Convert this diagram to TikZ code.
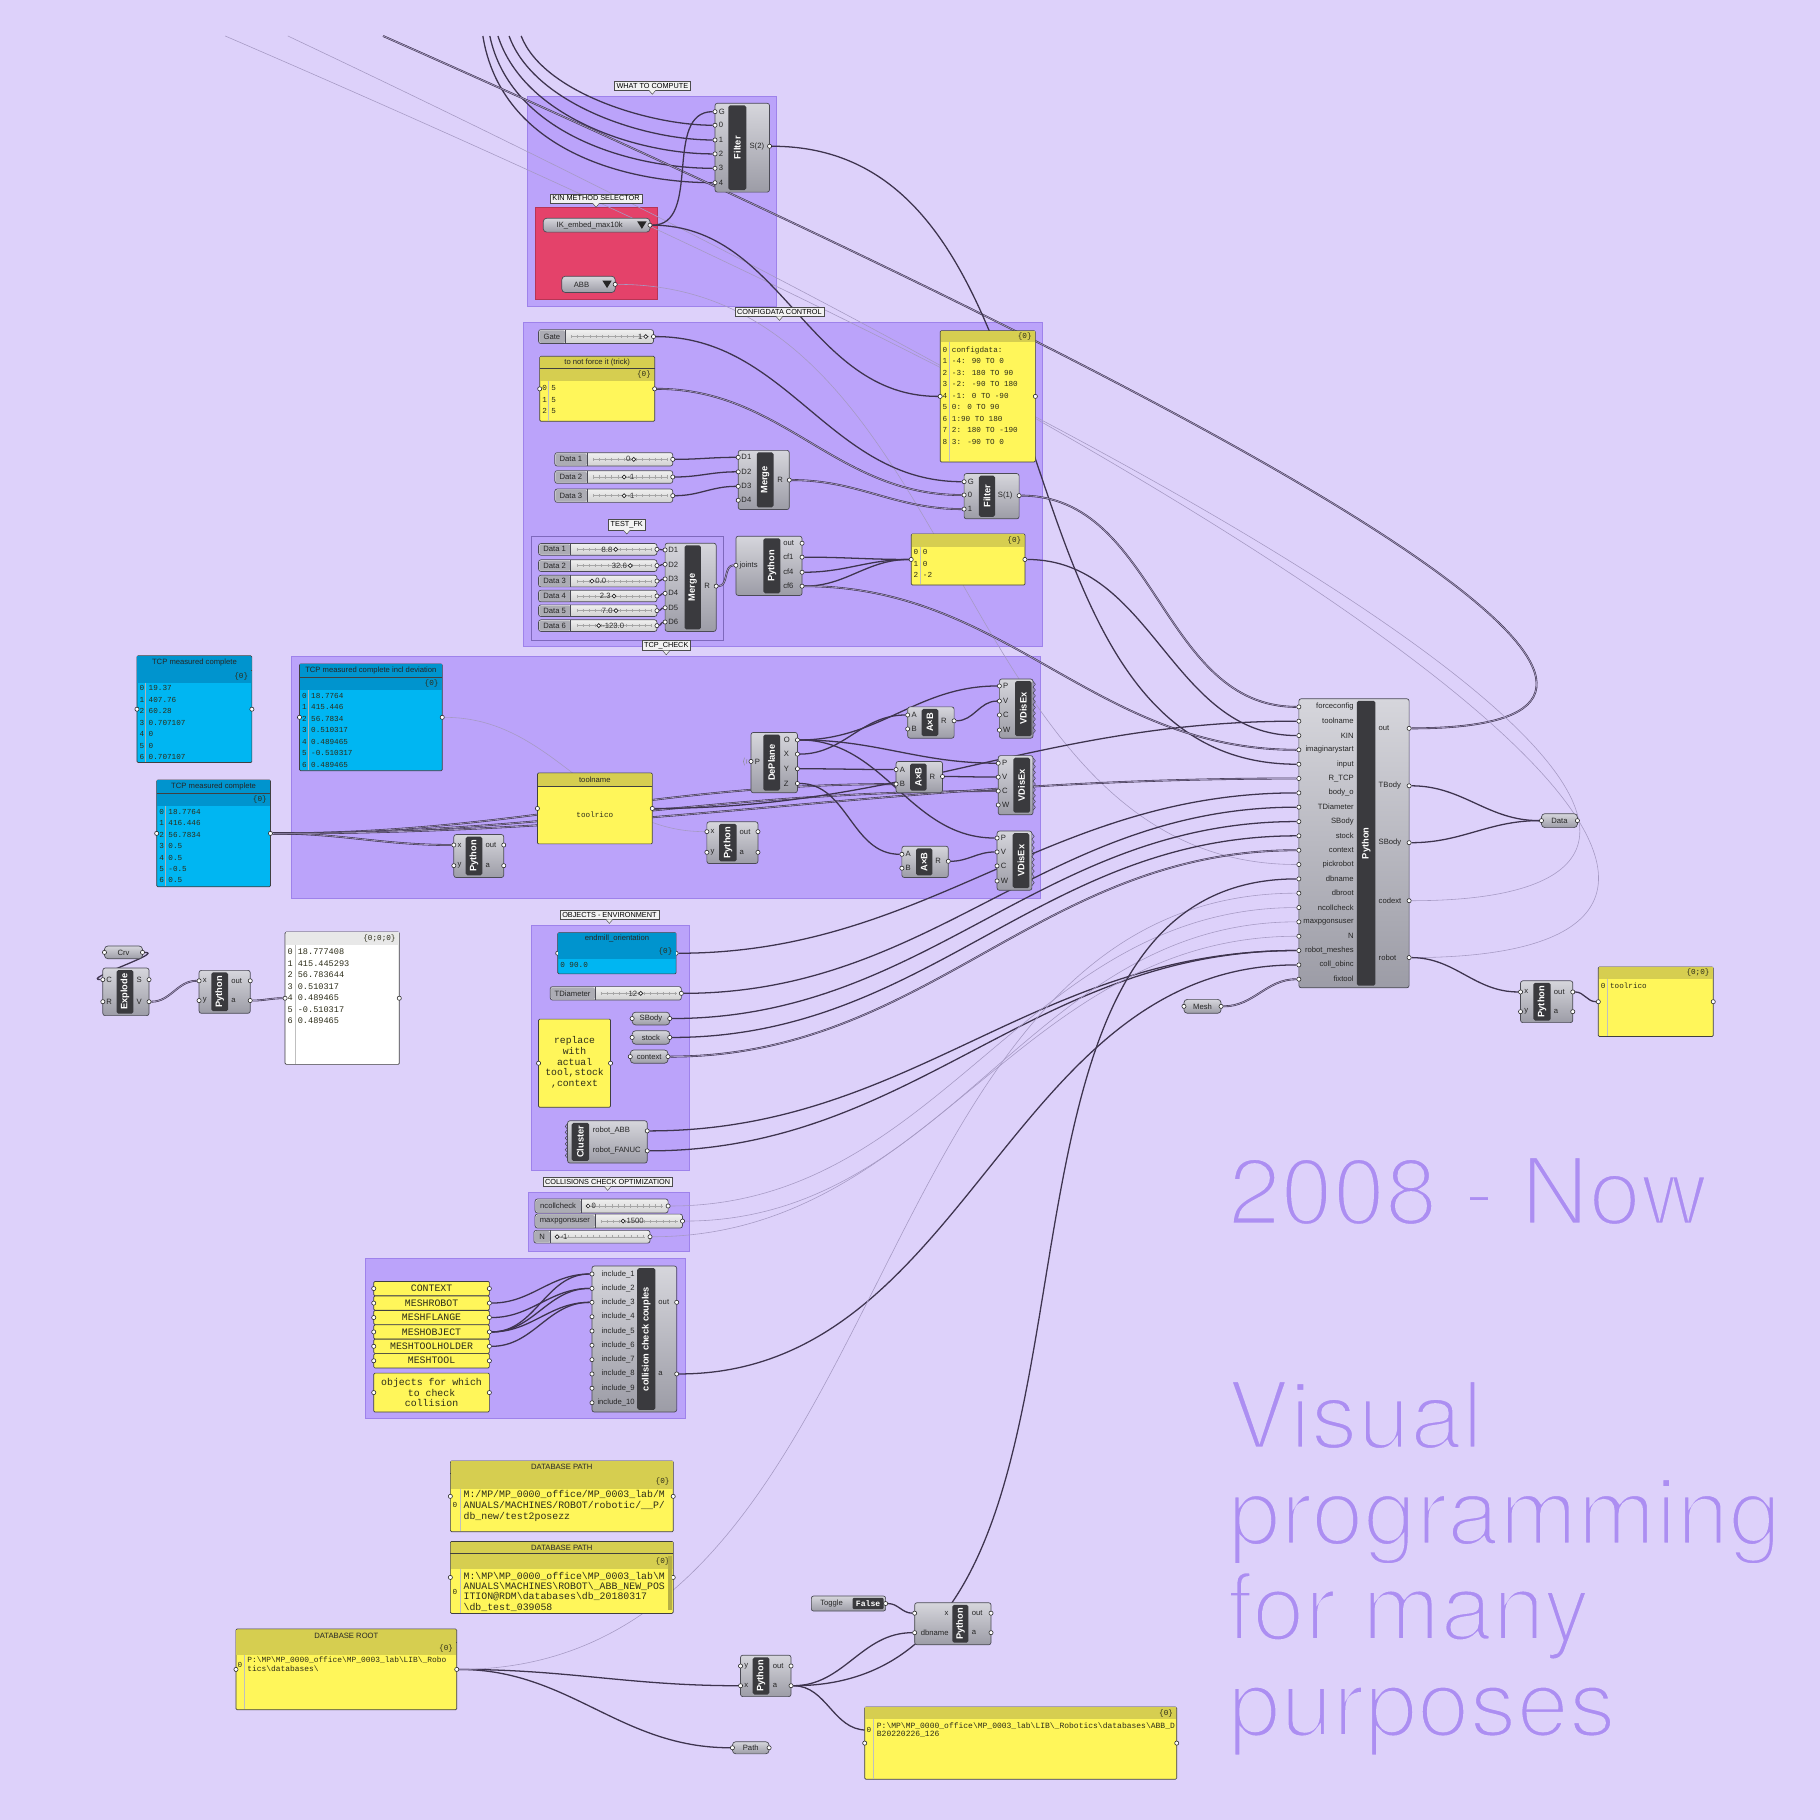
\documentclass[tikz,border=0pt]{standalone}
\usepackage{fontspec}
\setmainfont{Liberation Sans}
\newfontfamily\panelfont{Liberation Mono}
\newfontfamily\headlinefont{TeX Gyre Heros}

\definecolor{canvas}{RGB}{221,209,250}
\definecolor{grpfill}{RGB}{187,163,250}
\definecolor{grpline}{RGB}{158,130,235}
\definecolor{grpred}{RGB}{228,66,106}
\definecolor{compt}{RGB}{214,214,220}
\definecolor{compb}{RGB}{156,156,166}
\definecolor{compline}{RGB}{75,75,85}
\definecolor{barc}{RGB}{58,58,62}
\definecolor{sldname}{RGB}{172,172,180}
\definecolor{wirec}{RGB}{62,52,78}
\definecolor{wiregap}{RGB}{168,156,196}
\definecolor{faint}{RGB}{166,154,196}
\definecolor{pyel}{RGB}{255,246,90}
\definecolor{pyelh}{RGB}{214,206,80}
\definecolor{pblue}{RGB}{0,182,242}
\definecolor{pblueh}{RGB}{0,148,206}
\definecolor{ptext}{RGB}{45,45,25}
\definecolor{lblfill}{RGB}{242,242,242}
\definecolor{bigtxt}{RGB}{172,142,242}

\pgfdeclarelayer{grp}
\pgfdeclarelayer{wires}
\pgfsetlayers{grp,wires,main}

\newcommand{\bsl}{\textbackslash}
% thin the headline glyphs: fill, then stroke their edge in the canvas colour
\newcommand{\thinglyphs}[1]{\special{pdf:literal direct 2 Tr 3.4 w 0.867 0.820 0.980 RG}#1\special{pdf:literal direct 0 Tr}}

\tikzset{
  comp/.style={draw=compline,line width=0.6pt,rounded corners=2pt,top color=compt,bottom color=compb},
  sld/.style={draw=compline,line width=0.6pt,rounded corners=2pt,top color=white!94!black,bottom color=black!18},
  compbar/.style={fill=barc,rounded corners=1.5pt},
  bartxt/.style={rotate=90,text=white,font=\bfseries\fontsize{8}{8}\selectfont,inner sep=0pt},
  port/.style={circle,draw=black!85,fill=white,line width=0.5pt,inner sep=0pt,minimum size=3.6pt},
  knob/.style={circle,draw=black!85,fill=white,line width=0.6pt,inner sep=0pt,minimum size=3.4pt},
  ptxt/.style={font=\fontsize{6.6}{7}\selectfont,text=black!85,inner sep=0.6pt},
  sldv/.style={font=\fontsize{6.6}{7}\selectfont,text=black!80,inner sep=0.8pt},
  grplbl/.style={draw=black!70,fill=lblfill,font=\fontsize{6.3}{6.3}\selectfont,inner xsep=2pt,inner ysep=1.6pt,line width=0.4pt},
  grp/.style={fill=grpfill,draw=grpline,line width=0.5pt},
  pnl/.style={draw=black!75,line width=0.6pt,rounded corners=1pt},
  mono/.style={font=\panelfont\fontsize{6.6}{9.9}\selectfont,text=ptext,inner sep=0pt,align=left},
  monobig/.style={font=\panelfont\fontsize{8.5}{9.3}\selectfont,text=ptext,inner sep=0pt,align=center},
  wire/.style={draw=wirec,line width=1.1pt},
  wirel/.style={draw=wirec,line width=0.5pt,double=wiregap,double distance=0.6pt},
  wiref/.style={draw=faint,line width=0.5pt},
  ripple/.style={draw=black!45,line width=0.4pt},
  zig/.style={draw=compline,line width=0.5pt},
  bigt/.style={font=\headlinefont\fontsize{81}{81}\selectfont,text=bigtxt,inner sep=0pt,anchor=base west},
}

% component: name, x1, y1, x2, y2, bar x1, bar x2, title
\newcommand{\ghcomp}[8]{%
  \draw[comp] (#2,#3) rectangle (#4,#5);
  \fill[compbar] (#6,#3+1.8) rectangle (#7,#5-1.8);
  \node[bartxt] (#1) at ({(#6+#7)/2},{(#3+#5)/2}) {#8};}
% port: name, x, y, label, label x, label anchor
\newcommand{\ghport}[6]{%
  \node[port] (#1) at (#2,#3) {};
  \node[ptxt,anchor=#6] (#1-t) at (#5,#3) {#4};}
% slider: name, x1, y1, x2, y2, end of name part, label, knob x, value label
\newcommand{\ghslider}[9]{%
  \draw[sld] (#2,#3) rectangle (#4,#5);
  \fill[sldname,rounded corners=1.5pt] (#2+0.6,#3+0.6) rectangle (#6,#5-0.6);
  \draw[compline,line width=0.4pt] (#6,#3) -- (#6,#5);
  \node[ptxt] (#1-n) at ({(#2+#6)/2},{(#3+#5)/2}) {#7};
  \draw[black!35,line width=0.35pt] (#6+5,{(#3+#5)/2}) -- (#4-4,{(#3+#5)/2});
  \draw[black!35,line width=2.6pt,dash pattern=on 0.35pt off 5pt] (#6+5,{(#3+#5)/2}) -- (#4-4,{(#3+#5)/2});
  \node[knob,label={[sldv]#9}] (#1-k) at (#8,{(#3+#5)/2}) {};
  \node[port] (#1) at (#4,{(#3+#5)/2}) {};}
% value list: name, x1, y1, x2, y2, text
\newcommand{\ghvlist}[6]{%
  \draw[comp,rounded corners=3pt] (#2,#3) rectangle (#4,#5);
  \node[ptxt] (#1-t) at ({(#2+#4-12)/2},{(#3+#5)/2}) {#6};
  \fill[black!85] (#4-11,{(#3+#5)/2-3.2}) -- (#4-3,{(#3+#5)/2-3.2}) -- (#4-7,{(#3+#5)/2+3.2}) -- cycle;
  \node[port] (#1) at (#4,{(#3+#5)/2}) {};}
% parameter: name, x1, y1, x2, y2, text
\newcommand{\ghparam}[6]{%
  \draw[comp,rounded corners=3pt] (#2,#3) rectangle (#4,#5);
  \node[ptxt] (#1-t) at ({(#2+#4)/2},{(#3+#5)/2}) {#6};
  \node[port] (#1-i) at (#2,{(#3+#5)/2}) {};
  \node[port] (#1) at (#4,{(#3+#5)/2}) {};}
% panel box: name, x1, y1, x2, y2, fill
\newcommand{\ghpanel}[6]{%
  \draw[pnl,fill=#6] (#2,#3) rectangle (#4,#5);
  \node[port] (#1-i) at (#2,{(#3+#5)/2}) {};
  \node[port] (#1) at (#4,{(#3+#5)/2}) {};}
% panel title band: name, x1, y1, x2, y2, fill, text
\newcommand{\ghhead}[7]{%
  \fill[#6] (#2+0.4,#3+0.4) rectangle (#4-0.4,#5);
  \draw[black!75,line width=0.4pt] (#2,#5) -- (#4,#5);
  \node[ptxt] (#1) at ({(#2+#4)/2},{(#3+#5)/2}) {#7};}
% panel path band: name, x1, y1, x2, y2, fill, text
\newcommand{\ghidx}[7]{%
  \fill[#6] (#2+0.4,#3+0.2) rectangle (#4-0.4,#5);
  \node[mono,anchor=east] (#1) at (#4-3,{(#3+#5)/2}) {#7};}
% group label with pointer
\newcommand{\ghlabel}[4]{%
  \node[grplbl] (#1) at (#2,#3) {#4};
  \filldraw[fill=lblfill,draw=black!70,line width=0.4pt] ([xshift=-3pt]#1.south) -- ([yshift=-3.5pt]#1.south) -- ([xshift=3pt]#1.south);}

\begin{document}
\begin{tikzpicture}[x=1pt,y=-1pt]
\useasboundingbox (0,0) rectangle (1568,1568);

\begin{pgfonlayer}{grp}
  \fill[canvas] (0,0) rectangle (1568,1568);
  \draw[grp] (454,83) rectangle (669,264);
  \draw[grp,fill=grpred,draw=grpred!80!black] (461,179) rectangle (566,258);
  \draw[grp] (451,278) rectangle (898,557);
  \draw[grp,draw=grpline!80!black] (458,462) rectangle (623,552);
  \draw[grp] (251,565) rectangle (896,774);
  \draw[grp] (458,797) rectangle (594,1008);
  \draw[grp] (455,1027) rectangle (594,1078);
  \draw[grp] (315,1084) rectangle (590,1222);
\end{pgfonlayer}

% group labels
\ghlabel{lwtc}{562}{73.7}{WHAT TO COMPUTE}
\ghlabel{lkin}{513.5}{171}{KIN METHOD SELECTOR}
\ghlabel{lcfg}{671.5}{268.5}{CONFIGDATA CONTROL}
\ghlabel{lfk}{540}{452}{TEST\_FK}
\ghlabel{ltcp}{574}{556}{TCP\_CHECK}
\ghlabel{lobj}{525}{788}{OBJECTS - ENVIRONMENT}
\ghlabel{lcol}{523.5}{1018}{COLLISIONS CHECK OPTIMIZATION}

% what to compute
\ghcomp{ft}{616}{89}{663}{165.5}{627.5}{643}{Filter}
\ghport{ft-g}{616}{96.2}{G}{618.5}{west}
\ghport{ft-0}{616}{107.9}{0}{618.5}{west}
\ghport{ft-1}{616}{120.6}{1}{618.5}{west}
\ghport{ft-2}{616}{132.6}{2}{618.5}{west}
\ghport{ft-3}{616}{145}{3}{618.5}{west}
\ghport{ft-4}{616}{157.4}{4}{618.5}{west}
\ghport{ft-s}{663}{126}{S(2)}{645}{west}
\ghvlist{ik}{468}{188}{560}{200}{IK\_embed\_max10k}
\ghvlist{abb}{484}{238}{530}{252}{ABB}

% configdata control
\ghslider{gate}{464}{284}{563}{296}{487}{Gate}{556.4}{left:1}
\ghpanel{tnf}{465}{307}{564}{363}{pyel}
\ghhead{tnf-h}{465}{307}{564}{317.5}{pyelh}{to not force it (trick)}
\ghidx{tnf-p}{465}{317.5}{564}{328.5}{pyelh}{\{0\}}
\draw[black!25,line width=0.3pt] (472,328.5) -- (472,362.5);
\node[mono,anchor=north west] (tnf-r) at (467,332.2) {0 5\\1 5\\2 5};
\ghpanel{cfg}{810}{285}{892}{398}{pyel}
\ghidx{cfg-p}{810}{285}{892}{295}{pyelh}{\{0\}}
\draw[black!25,line width=0.3pt] (817.5,295) -- (817.5,397.5);
\node[mono,anchor=north west] (cfg-r) at (812,298.7) {0 configdata:\\1 -4: 90 TO 0\\2 -3: 180 TO 90\\3 -2: -90 TO 180\\4 -1: 0 TO -90\\5 0: 0 TO 90\\6 1:90 TO 180\\7 2: 180 TO -190\\8 3: -90 TO 0};
\ghslider{d1}{478}{390}{579.6}{401.5}{505.7}{Data 1}{546}{left:0}
\ghslider{d2}{478}{405.5}{579.6}{416.4}{505.7}{Data 2}{537.7}{right:-1}
\ghslider{d3}{478}{421.3}{579.6}{432.8}{505.7}{Data 3}{537.7}{right:-1}
\ghcomp{mg1}{636}{388}{680}{439}{652}{666.4}{Merge}
\ghport{mg1-d1}{636}{394}{D1}{638}{west}
\ghport{mg1-d2}{636}{406.5}{D2}{638}{west}
\ghport{mg1-d3}{636}{419}{D3}{638}{west}
\ghport{mg1-d4}{636}{431}{D4}{638}{west}
\ghport{mg1-r}{680}{413.6}{R}{669}{west}
\ghcomp{fc}{830.6}{408}{878}{447}{843.3}{857.3}{Filter}
\ghport{fc-g}{830.6}{415}{G}{833}{west}
\ghport{fc-0}{830.6}{426.5}{0}{833}{west}
\ghport{fc-1}{830.6}{438.6}{1}{833}{west}
\ghport{fc-s}{878}{427}{S(1)}{859}{west}

% test fk
\ghslider{t1}{464}{468.3}{566}{478.3}{491.7}{Data 1}{530.5}{left:8.8}
\ghslider{t2}{464}{482.3}{566}{492.3}{491.7}{Data 2}{543}{left:32.6}
\ghslider{t3}{464}{495.6}{566}{505.6}{491.7}{Data 3}{510}{right:0.0}
\ghslider{t4}{464}{508.5}{566}{518.5}{491.7}{Data 4}{529}{left:2.3}
\ghslider{t5}{464}{521.1}{566}{531.1}{491.7}{Data 5}{530.7}{left:7.0}
\ghslider{t6}{464}{534}{566}{544}{491.7}{Data 6}{515.9}{right:-123.0}
\ghcomp{mg2}{573}{468}{617}{544}{589.8}{603.9}{Merge}
\ghport{mg2-d1}{573}{473.8}{D1}{575}{west}
\ghport{mg2-d2}{573}{486.2}{D2}{575}{west}
\ghport{mg2-d3}{573}{498.8}{D3}{575}{west}
\ghport{mg2-d4}{573}{511.2}{D4}{575}{west}
\ghport{mg2-d5}{573}{523.6}{D5}{575}{west}
\ghport{mg2-d6}{573}{535.9}{D6}{575}{west}
\ghport{mg2-r}{617}{505}{R}{606}{west}
\ghcomp{pyj}{634}{462}{691}{513}{657.7}{672.3}{Python}
\ghport{pyj-j}{634}{487}{joints}{636.5}{west}
\ghport{pyj-out}{691}{468}{out}{674}{west}
\ghport{pyj-cf1}{691}{480}{cf1}{674}{west}
\ghport{pyj-cf4}{691}{493}{cf4}{674}{west}
\ghport{pyj-cf6}{691}{505}{cf6}{674}{west}
\ghpanel{cf}{785}{460}{883}{504}{pyel}
\ghidx{cf-p}{785}{460}{883}{471}{pyelh}{\{0\}}
\draw[black!25,line width=0.3pt] (792.5,471) -- (792.5,503.5);
\node[mono,anchor=north west] (cf-r) at (787,473.4) {0 0\\1 0\\2 -2};

% tcp panels
\ghpanel{tcp1}{118}{565}{217}{657}{pblue}
\ghhead{tcp1-h}{118}{565}{217}{577}{pblueh}{TCP measured complete}
\ghidx{tcp1-p}{118}{577}{217}{588}{pblueh}{\{0\}}
\draw[black!30,line width=0.3pt] (125.5,588) -- (125.5,656.5);
\node[mono,anchor=north west] (tcp1-r) at (120,590.7) {0 19.37\\1 407.76\\2 60.28\\3 0.707107\\4 0\\5 0\\6 0.707107};
\ghpanel{tcpd}{258}{572}{381}{664}{pblue}
\ghhead{tcpd-h}{258}{572}{381}{583.5}{pblueh}{TCP measured complete incl deviation}
\ghidx{tcpd-p}{258}{583.5}{381}{594.5}{pblueh}{\{0\}}
\draw[black!30,line width=0.3pt] (265.5,594.5) -- (265.5,663.5);
\node[mono,anchor=north west] (tcpd-r) at (260,596.8) {0 18.7764\\1 415.446\\2 56.7834\\3 0.510317\\4 0.489465\\5 -0.510317\\6 0.489465};
\ghpanel{tcp2}{135}{672}{233}{764}{pblue}
\ghhead{tcp2-h}{135}{672}{233}{683.5}{pblueh}{TCP measured complete}
\ghidx{tcp2-p}{135}{683.5}{233}{694}{pblueh}{\{0\}}
\draw[black!30,line width=0.3pt] (142.5,694) -- (142.5,763.5);
\node[mono,anchor=north west] (tcp2-r) at (137,696.7) {0 18.7764\\1 416.446\\2 56.7834\\3 0.5\\4 0.5\\5 -0.5\\6 0.5};

% tcp check
\ghpanel{tn}{463}{666}{562}{727}{pyel}
\ghhead{tn-h}{463}{666}{562}{677}{pyelh}{toolname}
\node[mono] (tn-r) at (512.5,701.6) {toolrico};
\ghcomp{pyt}{391}{719}{434}{756}{401.2}{415.5}{Python}
\ghport{pyt-x}{391}{728}{x}{393.5}{west}
\ghport{pyt-y}{391}{745.8}{y}{393.5}{west}
\ghport{pyt-out}{434}{728}{out}{417.5}{west}
\ghport{pyt-a}{434}{745.8}{a}{417.5}{west}
\ghcomp{pyt2}{609}{708}{653}{744}{619.5}{634.7}{Python}
\ghport{pyt2-x}{609}{716.5}{x}{611.5}{west}
\ghport{pyt2-y}{609}{734.3}{y}{611.5}{west}
\ghport{pyt2-out}{653}{716.5}{out}{636.5}{west}
\ghport{pyt2-a}{653}{734.3}{a}{636.5}{west}
\ghcomp{dp}{647}{631}{687}{683}{657.6}{672}{DePlane}
\ghport{dp-p}{647}{656}{P}{649.5}{west}
\ghport{dp-o}{687}{637.5}{O}{674.5}{west}
\ghport{dp-x}{687}{649.7}{X}{674.5}{west}
\ghport{dp-y}{687}{662.3}{Y}{674.5}{west}
\ghport{dp-z}{687}{675}{Z}{674.5}{west}
\draw[ripple] (643.5,658) arc[start angle=150,end angle=210,radius=4];
\draw[ripple] (641.4,659.3) arc[start angle=150,end angle=210,radius=6.5];
\ghcomp{ab1}{782}{609}{822}{636}{794}{808.4}{A{\texttimes}B}
\ghport{ab1-a}{782}{616}{A}{784.5}{west}
\ghport{ab1-b}{782}{628}{B}{784.5}{west}
\ghport{ab1-r}{822}{621}{R}{810}{west}
\ghcomp{ab2}{772}{656}{812}{683}{784}{798.4}{A{\texttimes}B}
\ghport{ab2-a}{772}{663}{A}{774.5}{west}
\ghport{ab2-b}{772}{675.5}{B}{774.5}{west}
\ghport{ab2-r}{812}{669}{R}{800}{west}
\ghcomp{ab3}{777}{729}{817}{756}{789.2}{803.3}{A{\texttimes}B}
\ghport{ab3-a}{777}{736}{A}{779.5}{west}
\ghport{ab3-b}{777}{748}{B}{779.5}{west}
\ghport{ab3-r}{817}{742}{R}{805}{west}
\ghcomp{vd1}{861}{585}{890}{636}{874.5}{888.8}{VDisEx}
\ghport{vd1-p}{861}{591}{P}{863.5}{west}
\ghport{vd1-v}{861}{604}{V}{863.5}{west}
\ghport{vd1-c}{861}{616}{C}{863.5}{west}
\ghport{vd1-w}{861}{629}{W}{863.5}{west}
\draw[zig] (890,587) -- (892,589.5) -- (890,592) -- (892,594.5) -- (890,597) -- (892,599.5) -- (890,602) -- (892,604.5) -- (890,607) -- (892,609.5) -- (890,612) -- (892,614.5) -- (890,617) -- (892,619.5) -- (890,622) -- (892,624.5) -- (890,627) -- (892,629.5) -- (890,632);
\ghcomp{vd2}{860}{651}{890}{702}{873}{887.4}{VDisEx}
\ghport{vd2-p}{860}{657.5}{P}{862.5}{west}
\ghport{vd2-v}{860}{669.5}{V}{862.5}{west}
\ghport{vd2-c}{860}{681.5}{C}{862.5}{west}
\ghport{vd2-w}{860}{693.5}{W}{862.5}{west}
\draw[zig] (890,653) -- (892,655.5) -- (890,658) -- (892,660.5) -- (890,663) -- (892,665.5) -- (890,668) -- (892,670.5) -- (890,673) -- (892,675.5) -- (890,678) -- (892,680.5) -- (890,683) -- (892,685.5) -- (890,688) -- (892,690.5) -- (890,693) -- (892,695.5) -- (890,698);
\ghcomp{vd3}{859}{716}{889}{767}{872.5}{886.8}{VDisEx}
\ghport{vd3-p}{859}{722}{P}{861.5}{west}
\ghport{vd3-v}{859}{734}{V}{861.5}{west}
\ghport{vd3-c}{859}{746}{C}{861.5}{west}
\ghport{vd3-w}{859}{759}{W}{861.5}{west}
\draw[zig] (889,718) -- (891,720.5) -- (889,723) -- (891,725.5) -- (889,728) -- (891,730.5) -- (889,733) -- (891,735.5) -- (889,738) -- (891,740.5) -- (889,743) -- (891,745.5) -- (889,748) -- (891,750.5) -- (889,753) -- (891,755.5) -- (889,758) -- (891,760.5) -- (889,763);

% main python
\ghcomp{py}{1119}{602}{1214}{851}{1169}{1185}{Python}
\ghport{pi-force}{1119}{609}{forceconfig}{1167}{east}
\ghport{pi-tool}{1119}{621.3}{toolname}{1167}{east}
\ghport{pi-kin}{1119}{633.7}{KIN}{1167}{east}
\ghport{pi-imag}{1119}{646}{imaginarystart}{1167}{east}
\ghport{pi-input}{1119}{658.4}{input}{1167}{east}
\ghport{pi-rtcp}{1119}{670.7}{R\_TCP}{1167}{east}
\ghport{pi-body}{1119}{683.1}{body\_o}{1167}{east}
\ghport{pi-tdia}{1119}{695.4}{TDiameter}{1167}{east}
\ghport{pi-sbody}{1119}{707.8}{SBody}{1167}{east}
\ghport{pi-stock}{1119}{720.1}{stock}{1167}{east}
\ghport{pi-ctx}{1119}{732.5}{context}{1167}{east}
\ghport{pi-pick}{1119}{744.8}{pickrobot}{1167}{east}
\ghport{pi-dbname}{1119}{757.2}{dbname}{1167}{east}
\ghport{pi-dbroot}{1119}{769.5}{dbroot}{1167}{east}
\ghport{pi-ncc}{1119}{781.9}{ncollcheck}{1167}{east}
\ghport{pi-mpg}{1119}{794.2}{maxpgonsuser}{1167}{east}
\ghport{pi-n}{1119}{806.6}{N}{1167}{east}
\ghport{pi-rm}{1119}{818.9}{robot\_meshes}{1167}{east}
\ghport{pi-coll}{1119}{831.3}{coll\_obinc}{1167}{east}
\ghport{pi-fix}{1119}{843.6}{fixtool}{1167}{east}
\ghport{po-out}{1214}{627.5}{out}{1187}{west}
\ghport{po-tbody}{1214}{677}{TBody}{1187}{west}
\ghport{po-sbody}{1214}{726}{SBody}{1187}{west}
\ghport{po-codext}{1214}{776}{codext}{1187}{west}
\ghport{po-robot}{1214}{825}{robot}{1187}{west}
\ghparam{data}{1328}{701}{1359}{713}{Data}
\ghparam{mesh}{1020}{861}{1052}{873}{Mesh}
\ghcomp{pyr}{1310}{845}{1355}{881}{1321}{1336}{Python}
\ghport{pyr-x}{1310}{854.6}{x}{1312.5}{west}
\ghport{pyr-y}{1310}{871.6}{y}{1312.5}{west}
\ghport{pyr-out}{1355}{854.6}{out}{1338}{west}
\ghport{pyr-a}{1355}{871.6}{a}{1338}{west}
\ghpanel{tr}{1377}{833}{1476}{893}{pyel}
\ghidx{tr-p}{1377}{833}{1476}{843.5}{pyelh}{\{0;0\}}
\draw[black!25,line width=0.3pt] (1384.5,843.5) -- (1384.5,892.5);
\node[mono,anchor=north west] (tr-r) at (1379,846.6) {0 toolrico};

% explode
\ghparam{crv}{90}{815}{122.8}{826}{Crv}
\ghcomp{ex}{88.6}{834}{128.4}{875}{100.4}{115}{Explode}
\ghport{ex-c}{88.6}{844}{C}{90.8}{west}
\ghport{ex-r}{88.6}{863}{R}{90.8}{west}
\ghport{ex-s}{128.4}{844}{S}{116.8}{west}
\ghport{ex-v}{128.4}{863}{V}{116.8}{west}
\ghcomp{pyl}{171.5}{836}{215.6}{873}{182}{196.5}{Python}
\ghport{pyl-x}{171.5}{845}{x}{174}{west}
\ghport{pyl-y}{171.5}{862}{y}{174}{west}
\ghport{pyl-out}{215.6}{845}{out}{198.5}{west}
\ghport{pyl-a}{215.6}{862}{a}{198.5}{west}
\ghpanel{wp}{245.6}{803}{344}{917}{white}
\ghidx{wp-p}{245.6}{803}{344}{814}{black!9}{\{0;0;0\}}
\draw[black!25,line width=0.3pt] (254.5,814) -- (254.5,916.5);
\node[mono,font=\panelfont\fontsize{7.4}{9.9}\selectfont,anchor=north west] (wp-r) at (247.5,817.6) {0 18.777408\\1 415.445293\\2 56.783644\\3 0.510317\\4 0.489465\\5 -0.510317\\6 0.489465};

% objects environment
\ghpanel{em}{480.5}{803.5}{582.5}{839}{pblue}
\ghhead{em-h}{480.5}{803.5}{582.5}{814}{pblueh}{endmill\_orientation}
\ghidx{em-p}{480.5}{814}{582.5}{826}{pblueh}{\{0\}}
\node[mono,anchor=north west] (em-r) at (482.5,828.8) {0 90.0};
\ghslider{tdia}{474}{850}{587}{861.6}{512.6}{TDiameter}{552}{left:12}
\ghparam{sbody}{544.6}{872}{577}{883}{SBody}
\ghparam{stock}{544.6}{888}{577}{899.6}{stock}
\ghparam{ctx}{543}{904.6}{575.5}{916}{context}
\ghpanel{rp}{464}{878}{526}{954}{pyel}
\node[monobig,font=\panelfont\fontsize{8.4}{9.2}\selectfont] (rp-r) at (495,915.5) {replace\\with\\actual\\tool,stock\\,context};
\ghcomp{cl}{489}{965.6}{557.6}{1002}{492.5}{507.6}{Cluster}
\draw[zig] (489,968) -- (487,970.5) -- (489,973) -- (487,975.5) -- (489,978) -- (487,980.5) -- (489,983) -- (487,985.5) -- (489,988) -- (487,990.5) -- (489,993) -- (487,995.5) -- (489,998);
\ghport{cl-abb}{557.6}{974.3}{robot\_ABB}{510}{west}
\ghport{cl-fanuc}{557.6}{991.5}{robot\_FANUC}{510}{west}

% collisions check optimization
\ghslider{ncc}{461}{1033}{575.6}{1045}{500.6}{ncollcheck}{506.6}{right:0}
\ghslider{mpg}{461}{1046}{588}{1058}{512.4}{maxpgonsuser}{536.8}{right:1500}
\ghslider{nn}{460}{1060}{560}{1071}{474}{N}{480}{right:-1}

% collision couples
\ghpanel{mctx}{322}{1104}{421.6}{1116.3}{pyel}
\node[monobig] (mctx-t) at (371.8,1110.2) {CONTEXT};
\ghpanel{mrob}{322}{1116.5}{421.6}{1128.8}{pyel}
\node[monobig] (mrob-t) at (371.8,1122.7) {MESHROBOT};
\ghpanel{mfl}{322}{1129}{421.6}{1141.2}{pyel}
\node[monobig] (mfl-t) at (371.8,1135.1) {MESHFLANGE};
\ghpanel{mobj}{322}{1141.4}{421.6}{1153.6}{pyel}
\node[monobig] (mobj-t) at (371.8,1147.5) {MESHOBJECT};
\ghpanel{mth}{322}{1153.8}{421.6}{1166}{pyel}
\node[monobig] (mth-t) at (371.8,1159.9) {MESHTOOLHOLDER};
\ghpanel{mtl}{322}{1166.2}{421.6}{1178.5}{pyel}
\node[monobig] (mtl-t) at (371.8,1172.3) {MESHTOOL};
\ghpanel{mnote}{322}{1183}{421.6}{1216.5}{pyel}
\node[monobig] (mnote-t) at (371.8,1199.8) {objects for which\\to check\\collision};
\ghcomp{cc}{510}{1090.7}{583}{1216.5}{549}{564.6}{collision check couples}
\ghport{cc-1}{510}{1097.6}{include\_1}{547.5}{east}
\ghport{cc-2}{510}{1110}{include\_2}{547.5}{east}
\ghport{cc-3}{510}{1122}{include\_3}{547.5}{east}
\ghport{cc-4}{510}{1134.4}{include\_4}{547.5}{east}
\ghport{cc-5}{510}{1146.7}{include\_5}{547.5}{east}
\ghport{cc-6}{510}{1159}{include\_6}{547.5}{east}
\ghport{cc-7}{510}{1171.4}{include\_7}{547.5}{east}
\ghport{cc-8}{510}{1183.7}{include\_8}{547.5}{east}
\ghport{cc-9}{510}{1196}{include\_9}{547.5}{east}
\ghport{cc-10}{510}{1208.5}{include\_10}{547.5}{east}
\ghport{cc-out}{583}{1122}{out}{566.5}{west}
\ghport{cc-a}{583}{1183.7}{a}{566.5}{west}

% database
\ghpanel{dbp1}{388}{1258.7}{580}{1319.6}{pyel}
\ghhead{dbp1-h}{388}{1258.7}{580}{1269}{pyelh}{DATABASE PATH}
\ghidx{dbp1-p}{388}{1269}{580}{1283}{pyelh}{\{0\}}
\draw[black!25,line width=0.3pt] (396.5,1283) -- (396.5,1319.2);
\node[mono] (dbp1-i) at (392,1296.7) {0};
\node[monobig,align=left,anchor=north west] (dbp1-r) at (399.2,1284.1) {M:/MP/MP\_0000\_office/MP\_0003\_lab/M\\ANUALS/MACHINES/ROBOT/robotic/\_\_P/\\db\_new/test2posezz};
\ghpanel{dbp2}{388}{1328}{580}{1390}{pyel}
\ghhead{dbp2-h}{388}{1328}{580}{1338.5}{pyelh}{DATABASE PATH}
\ghidx{dbp2-p}{388}{1338.5}{580}{1352}{pyelh}{\{0\}}
\fill[pyelh!85!black] (575.8,1340.5) rectangle (579.2,1387);
\draw[black!25,line width=0.3pt] (396.5,1352) -- (396.5,1389.6);
\node[mono] (dbp2-i) at (392,1371.3) {0};
\node[monobig,font=\panelfont\fontsize{8.5}{8.9}\selectfont,align=left,anchor=north west] (dbp2-r) at (399.2,1354.1) {M:\bsl MP\bsl MP\_0000\_office\bsl MP\_0003\_lab\bsl M\\ANUALS\bsl MACHINES\bsl ROBOT\bsl\_ABB\_NEW\_POS\\ITION@RDM\bsl databases\bsl db\_20180317\\\bsl db\_test\_039058};
\ghpanel{dbr}{203.3}{1403.5}{393.5}{1473}{pyel}
\ghhead{dbr-h}{203.3}{1403.5}{393.5}{1414.4}{pyelh}{DATABASE ROOT}
\ghidx{dbr-p}{203.3}{1414.4}{393.5}{1426}{pyelh}{\{0\}}
\draw[black!25,line width=0.3pt] (210.5,1426) -- (210.5,1472.6);
\node[mono] (dbr-i) at (206.8,1434) {0};
\node[mono,font=\panelfont\fontsize{6.8}{7.8}\selectfont,anchor=north west] (dbr-r) at (213,1427.2) {P:\bsl MP\bsl MP\_0000\_office\bsl MP\_0003\_lab\bsl LIB\bsl\_Robo\\tics\bsl databases\bsl};
\draw[comp] (699,1375) rectangle (763,1388);
\node[ptxt] (tg-t) at (716.5,1381.5) {Toggle};
\fill[barc,rounded corners=1pt] (734.6,1376.6) rectangle (761.2,1386.4);
\node[font=\panelfont\bfseries\fontsize{7}{7}\selectfont,text=white,inner sep=0pt] (tg-v) at (747.9,1381.5) {False};
\node[port] (tg) at (763,1381.5) {};
\ghcomp{pdb}{788}{1380.8}{853.8}{1417}{820.5}{834.3}{Python}
\ghport{pdb-x}{788}{1389.8}{x}{818}{east}
\ghport{pdb-db}{788}{1406.6}{dbname}{818}{east}
\ghport{pdb-out}{853.8}{1389.8}{out}{836.5}{west}
\ghport{pdb-a}{853.8}{1406.6}{a}{836.5}{west}
\ghcomp{pyd}{638}{1426}{681.5}{1461.7}{648.5}{662.8}{Python}
\ghport{pyd-y}{638}{1435.3}{y}{640.5}{west}
\ghport{pyd-x}{638}{1452.3}{x}{640.5}{west}
\ghport{pyd-out}{681.5}{1435.3}{out}{665}{west}
\ghport{pyd-a}{681.5}{1452.3}{a}{665}{west}
\ghparam{path}{631}{1500.5}{662.6}{1511}{Path}
\ghpanel{bp}{745}{1470.7}{1013.8}{1532.8}{pyel}
\ghidx{bp-p}{745}{1470.7}{1013.8}{1481}{pyelh}{\{0\}}
\draw[black!25,line width=0.3pt] (752.5,1481) -- (752.5,1532.4);
\node[mono] (bp-i) at (748.7,1490.5) {0};
\node[mono,font=\panelfont\fontsize{6.9}{7.2}\selectfont,anchor=north west] (bp-r) at (755.3,1483.6) {P:\bsl MP\bsl MP\_0000\_office\bsl MP\_0003\_lab\bsl LIB\bsl\_Robotics\bsl databases\bsl ABB\_D\\B20220226\_126};

% headline
\node[bigt] (yr) at (1058,1055) {\thinglyphs{2008 - Now}};
\node[bigt] (vp1) at (1057,1248) {\thinglyphs{Visual}};
\node[bigt] (vp2) at (1058,1330.8) {\thinglyphs{programming}};
\node[bigt] (vp3) at (1057,1413) {\thinglyphs{for many}};
\node[bigt] (vp4) at (1058,1495.8) {\thinglyphs{purposes}};

% wires
\begin{pgfonlayer}{wires}
  \coordinate (top0) at (449,31);
  \coordinate (top1) at (438.6,31);
  \coordinate (top2) at (429,31);
  \coordinate (top3) at (422,31);
  \coordinate (top4) at (416,31);
  \coordinate (topo) at (330,31);
  \coordinate (topf1) at (194,31);
  \coordinate (topf2) at (248,31);
  \draw[wire] (top0) .. controls (468,80) and (560,107.9) .. (ft-0);
  \draw[wire] (top1) .. controls (460,90) and (555,120.6) .. (ft-1);
  \draw[wire] (top2) .. controls (452,102) and (550,132.6) .. (ft-2);
  \draw[wire] (top3) .. controls (440,116) and (545,145) .. (ft-3);
  \draw[wire] (top4) .. controls (432,130) and (540,157.4) .. (ft-4);
  \draw[wirel] (po-out) .. controls (1440,627.5) and (1390,500) .. (topo);
  \draw[wiref] (po-codext) .. controls (1520,776) and (1420,560) .. (topf1);
  \draw[wiref] (po-robot) .. controls (1540,825) and (1450,600) .. (topf2);
  \draw[wire] (ik) to[out=0,in=180] (ft-g);
  \draw[wire] (ik) to[out=0,in=180] (cfg-i);
  \draw[wiref] (abb) to[out=0,in=180] (pi-pick);
  \draw[wire] (ft-s) to[out=0,in=180] (pi-input);
  \draw[wire] (gate) to[out=0,in=180] (fc-g);
  \draw[wirel] (tnf) to[out=0,in=180] (fc-0);
  \draw[wirel] (mg1-r) to[out=0,in=180] (fc-1);
  \draw[wire] (d1) to[out=0,in=180] (mg1-d1);
  \draw[wire] (d2) to[out=0,in=180] (mg1-d2);
  \draw[wire] (d3) to[out=0,in=180] (mg1-d3);
  \draw[wirel] (fc-s) to[out=0,in=180] (pi-force);
  \draw[wire] (t1) to[out=0,in=180] (mg2-d1);
  \draw[wire] (t2) to[out=0,in=180] (mg2-d2);
  \draw[wire] (t3) to[out=0,in=180] (mg2-d3);
  \draw[wire] (t4) to[out=0,in=180] (mg2-d4);
  \draw[wire] (t5) to[out=0,in=180] (mg2-d5);
  \draw[wire] (t6) to[out=0,in=180] (mg2-d6);
  \draw[wirel] (mg2-r) to[out=0,in=180] (pyj-j);
  \draw[wire] (pyj-cf1) to[out=0,in=180] (cf-i);
  \draw[wire] (pyj-cf4) to[out=0,in=180] (cf-i);
  \draw[wire] (pyj-cf6) to[out=0,in=180] (cf-i);
  \draw[wirel] (pyj-cf6) to[out=0,in=180] (pi-imag);
  \draw[wire] (cf) to[out=0,in=180] (pi-kin);
  \draw[wirel] (tcp2) to[out=0,in=180] (pyt-x);
  \draw[wirel] (tcp2) to[out=0,in=180] (ab2-b);
  \draw[wirel] (tcp2) to[out=0,in=180] (vd2-c);
  \draw[wirel] (tcp2) to[out=0,in=180] (pi-rtcp);
  \draw[wiref] (tcpd) to[out=0,in=180] (pyt2-x);
  \draw[wire] (tn) to[out=0,in=180] (pi-tool);
  \draw[wire] (dp-o) to[out=0,in=180] (vd1-p);
  \draw[wire] (dp-o) to[out=0,in=180] (vd2-p);
  \draw[wire] (dp-o) to[out=0,in=180] (vd3-p);
  \draw[wire] (dp-x) to[out=0,in=180] (ab1-a);
  \draw[wire] (dp-y) to[out=0,in=180] (ab2-a);
  \draw[wire] (dp-z) to[out=0,in=180] (ab3-a);
  \draw[wire] (ab1-r) to[out=0,in=180] (vd1-v);
  \draw[wire] (ab2-r) to[out=0,in=180] (vd2-v);
  \draw[wire] (ab3-r) to[out=0,in=180] (vd3-v);
  \draw[wire] (em) to[out=0,in=180] (pi-body);
  \draw[wire] (tdia) to[out=0,in=180] (pi-tdia);
  \draw[wire] (sbody) to[out=0,in=180] (pi-sbody);
  \draw[wire] (stock) to[out=0,in=180] (pi-stock);
  \draw[wirel] (ctx) to[out=0,in=180] (pi-ctx);
  \draw[wire] (cl-abb) to[out=0,in=180] (pi-rm);
  \draw[wire] (cl-fanuc) to[out=0,in=180] (pi-rm);
  \draw[wiref] (ncc) to[out=0,in=180] (pi-ncc);
  \draw[wiref] (mpg) to[out=0,in=180] (pi-mpg);
  \draw[wiref] (nn) to[out=0,in=180] (pi-n);
  \draw[wire] (mrob) to[out=0,in=180] (cc-1);
  \draw[wire] (mobj) to[out=0,in=180] (cc-1);
  \draw[wire] (mfl) to[out=0,in=180] (cc-2);
  \draw[wire] (mobj) to[out=0,in=180] (cc-2);
  \draw[wire] (mth) to[out=0,in=180] (cc-3);
  \draw[wire] (mobj) to[out=0,in=180] (cc-3);
  \draw[wire] (cc-a) to[out=0,in=180] (pi-coll);
  \draw[wirel] (mesh) to[out=0,in=180] (pi-fix);
  \draw[wire] (dbr) to[out=0,in=180] (pyd-x);
  \draw[wire] (dbr) to[out=0,in=180] (path-i);
  \draw[wiref] (dbr) to[out=0,in=180] (pi-dbroot);
  \draw[wire] (pyd-a) to[out=0,in=180] (pdb-db);
  \draw[wire] (pyd-a) to[out=0,in=180] (bp-i);
  \draw[wire] (pyd-a) to[out=0,in=180] (pi-dbname);
  \draw[wire] (tg) to[out=0,in=180] (pdb-x);
  \draw[wire] (crv) to[out=0,in=180] (ex-c);
  \draw[wirel] (ex-v) to[out=0,in=180] (pyl-x);
  \draw[wirel] (pyl-a) to[out=0,in=180] (wp-i);
  \draw[wire] (po-tbody) to[out=0,in=180] (data-i);
  \draw[wire] (po-sbody) to[out=0,in=180] (data-i);
  \draw[wire] (po-robot) to[out=0,in=180] (pyr-x);
  \draw[wire] (pyr-out) to[out=0,in=180] (tr-i);
\end{pgfonlayer}
\end{tikzpicture}
\end{document}
